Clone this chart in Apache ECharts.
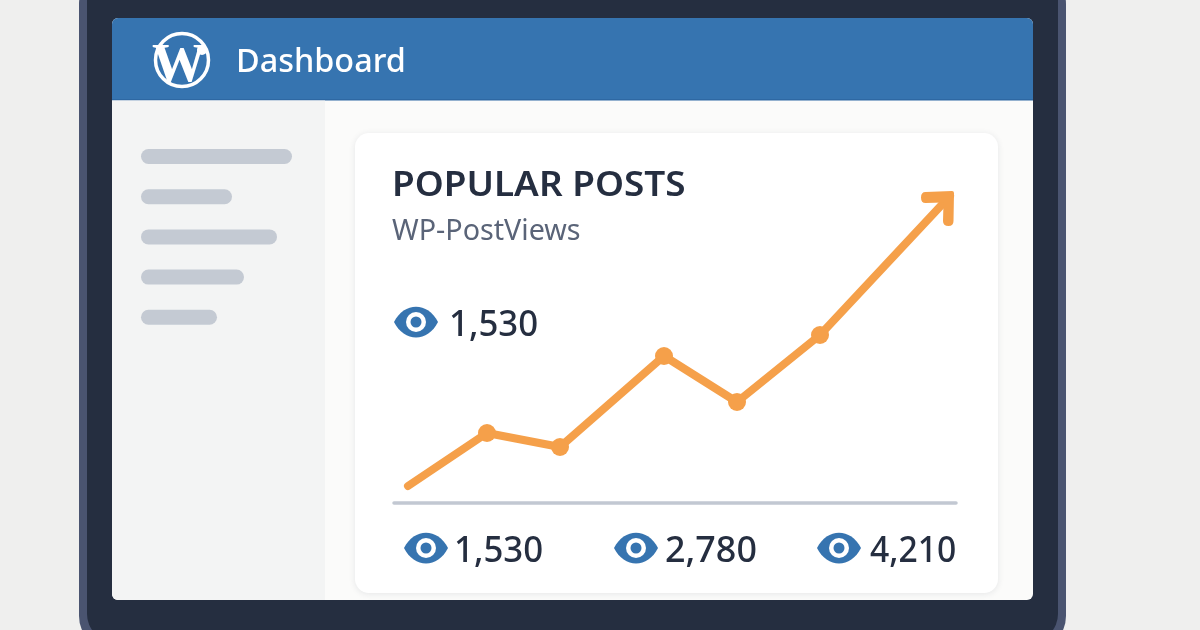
<!DOCTYPE html>
<html>
<head>
<meta charset="utf-8">
<style>
html, body { margin: 0; padding: 0; background: #efefee; }
#main { width: 1200px; height: 630px; }
</style>
<script src="https://cdn.jsdelivr.net/npm/echarts@6/dist/echarts.min.js"></script>
</head>
<body>
<div id="main"></div>
<script>
// values
var postDays = [14, 93, 166, 270, 343, 426, 556];
var postViews = [255, 1050, 840, 2205, 1515, 2520, 4605];
var headerTitle = 'Dashboard';
var cardTitle = 'POPULAR POSTS';
var cardSubtitle = 'WP-PostViews';
var mainStat = '1,530';
var bottomStats = ['1,530', '2,780', '4,210'];
var sidebarWidths = [151, 91, 136, 103, 76];

var NAVY = '#252e40', BLUE = '#3674b0', ORANGE = '#f5a04a', FONT = '"Noto Sans", sans-serif';
var ARROW = 'path://M4.5 1L31 0Q33 0 33 2L32.5 30Q32.5 35 27.5 35Q22 35 22 30L22.5 11.5L4.5 12Q0 12 0 6.5Q0 1 4.5 1Z';

// the view counter eye
echarts.graphic.registerShape('eyeShape', echarts.graphic.extendShape({
    shape: { w: 22, h: 20.5 },
    buildPath: function (ctx, shape) {
        var w = shape.w, h = shape.h;
        ctx.moveTo(-w, 0);
        ctx.bezierCurveTo(-w * 0.55, -h, w * 0.55, -h, w, 0);
        ctx.bezierCurveTo(w * 0.55, h, -w * 0.55, h, -w, 0);
        ctx.closePath();
    }
}));

function box(x, y, w, h, r, fill, extra) {
    var style = Object.assign({ fill: fill }, extra || {});
    return { type: 'rect', shape: { x: x, y: y, width: w, height: h, r: r }, style: style, silent: true };
}
function label(text, x, y, font, fill, scaleX) {
    return {
        type: 'text', x: x, y: y, scaleX: scaleX || 1,
        style: { text: text, x: 0, y: 0, font: font, fill: fill, textVerticalAlign: 'middle' },
        silent: true
    };
}
function eye(cx, cy) {
    return {
        type: 'group', x: cx, y: cy, silent: true,
        children: [
            { type: 'eyeShape', shape: { w: 22, h: 20.5 }, style: { fill: BLUE } },
            { type: 'circle', shape: { cx: 0, cy: 0, r: 10 }, style: { fill: '#fff' } },
            { type: 'circle', shape: { cx: 0, cy: 0, r: 5.5 }, style: { fill: BLUE } }
        ]
    };
}

var elements = [
    // tablet frame
    box(79, -30, 987, 680, 34, '#4a5470'),
    box(87, -30, 971, 672, 28, NAVY),
    box(112, 18, 921, 582, 6, '#fbfbfa'),
    box(112, 18, 921, 82, [6, 6, 0, 0], BLUE),
    box(112, 99, 921, 1.5, 0, '#2e68a3'),
    box(112, 100.5, 213, 499.5, [0, 0, 0, 6], '#f3f4f4'),
    // wordpress logo
    { type: 'circle', shape: { cx: 182, cy: 60, r: 26.5 }, style: { fill: BLUE, stroke: '#fff', lineWidth: 3.5 }, silent: true },
    { type: 'text', style: { text: 'W', x: 179, y: 67, font: 'bold 54px "Liberation Serif", serif', fill: '#fff', textAlign: 'center', textVerticalAlign: 'middle' }, silent: true },
    { type: 'circle', shape: { cx: 202, cy: 50, r: 5 }, style: { fill: '#fff' }, silent: true },
    label(headerTitle, 236, 63, '500 32.4px ' + FONT, '#fff'),
    // card
    box(355, 133, 643, 460, 14, '#fff', { shadowBlur: 6, shadowColor: 'rgba(40,50,70,0.10)', shadowOffsetY: 1 }),
    label(cardTitle, 392, 186, '600 35px ' + FONT, NAVY, 1.054),
    label(cardSubtitle, 392, 232, '400 28.7px ' + FONT, '#5a6478'),
    eye(416, 322),
    label(mainStat, 449, 325, '500 37px ' + FONT, NAVY, 0.94)
];
sidebarWidths.forEach(function (w, i) {
    elements.push(box(141, 149 + i * 40.2, w, 15, 7.5, '#c4cad3'));
});
var eyeX = [426, 636, 839], statX = [454, 665, 870], statScale = [0.94, 0.97, 0.91];
bottomStats.forEach(function (s, i) {
    elements.push(eye(eyeX[i], 548));
    elements.push(label(s, statX[i], 551, '500 37px ' + FONT, NAVY, statScale[i]));
});

var seriesData = postDays.map(function (d, i) {
    var item = { value: [d, postViews[i]] };
    if (i === 0) item.symbol = 'none';
    if (i === postDays.length - 1) {
        item.symbol = ARROW;
        item.symbolSize = [33, 35];
        item.symbolOffset = [-12.5, 12.5];
    }
    return item;
});

var myChart = echarts.init(document.getElementById('main'), null, { renderer: 'canvas' });
myChart.setOption({
    animation: false,
    backgroundColor: '#efefee',
    graphic: { elements: elements },
    grid: { left: 394, right: 244, top: 183, bottom: 127 },
    xAxis: {
        type: 'value', min: 0, max: 562,
        axisLine: { onZero: false, lineStyle: { color: '#c2c8d2', width: 3.5 } },
        axisTick: { show: false }, axisLabel: { show: false }, splitLine: { show: false }
    },
    yAxis: {
        type: 'value', min: 0, max: 4800,
        axisLine: { show: false }, axisTick: { show: false }, axisLabel: { show: false }, splitLine: { show: false }
    },
    series: [{
        type: 'line',
        data: seriesData,
        symbol: 'circle',
        symbolSize: 18,
        showAllSymbol: true,
        itemStyle: { color: ORANGE },
        lineStyle: { color: ORANGE, width: 8, cap: 'round', join: 'round' }
    }]
});
</script>
</body>
</html>
